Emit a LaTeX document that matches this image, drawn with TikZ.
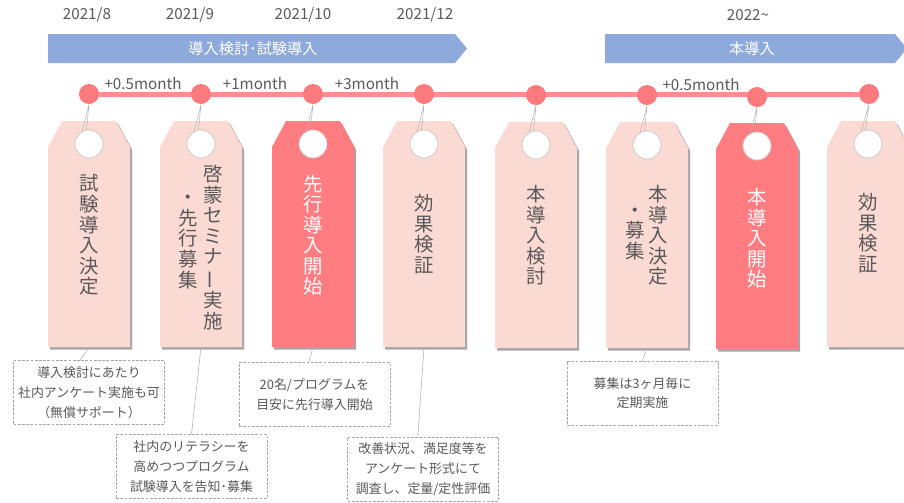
\documentclass[tikz,border=0pt]{standalone}
\usepackage{fontspec}
\setmainfont{Noto Sans CJK JP}
\usepackage{tikz}
\usetikzlibrary{backgrounds}

\definecolor{bandblue}{HTML}{8EA9DB}
\definecolor{tagpink}{HTML}{FCDAD4}
\definecolor{tagred}{HTML}{FF7C80}
\definecolor{dotred}{HTML}{FB7A7E}
\definecolor{linered}{HTML}{FF8C8F}
\definecolor{txtgray}{HTML}{595959}

\begin{document}
\begin{tikzpicture}[x=0.025cm,y=-0.025cm,font=\fontsize{10.8}{13}\selectfont,
    date/.style={text=txtgray},
    band/.style={fill=bandblue},
    dot/.style={circle,fill=dotred,minimum size=0.5cm,inner sep=0pt},
    hole/.style={circle,fill=white,draw=black!20,line width=0.6pt,minimum size=0.7cm,inner sep=0pt},
    vcol/.style={align=center,inner sep=0pt,text=#1,font=\fontsize{13.8}{14.6}\selectfont},
    vcol/.default=txtgray,
    note/.style={draw=black!35,dash pattern=on 2pt off 1pt,fill=white,align=center,text=txtgray,
      font=\fontsize{9.2}{14}\selectfont,minimum width=3.77cm,minimum height=1.6cm,inner sep=0pt},
    link/.style={black!30,line width=0.4pt},
    string/.style={black!30,line width=0.35pt},
    pics/tag/.style={code={
      \fill[black!35,shift={(2,2.5)}] (-27,0) -- (27,0) -- (41,26) -- (41,226) -- (-41,226) -- (-41,26) -- cycle;
      \fill[#1] (-27,0) -- (27,0) -- (41,26) -- (41,226) -- (-41,226) -- (-41,26) -- cycle;
      \node[hole] (-h) at (0,23) {};
      \coordinate (-b) at (0,226);
    }}]
  \useasboundingbox (0,0) rectangle (904,502);

  % months
  \node[date] (m1) at (87,15) {2021/8};
  \node[date] (m2) at (190,15) {2021/9};
  \node[date] (m3) at (303,15) {2021/10};
  \node[date] (m4) at (425,15) {2021/12};
  \node[date] (m5) at (748,15) {2022\textasciitilde};

  % phases
  \fill[band] (48,34) -- (455,34) -- (467,48.5) -- (455,63) -- (48,63) -- cycle;
  \node[text=white] (p1) at (253,49) {導入検討･試験導入};
  \fill[band] (605,34) -- (895,34) -- (907,48.5) -- (895,63) -- (605,63) -- cycle;
  \node[text=white] (p2) at (752,49) {本導入};

  % tags
  \pic (t1) at (89,121) {tag=tagpink};
  \pic (t2) at (201,121) {tag=tagpink};
  \pic (t3) at (313,121) {tag=tagred};
  \pic (t4) at (424,121) {tag=tagpink};
  \pic (t5) at (536,122) {tag=tagpink};
  \pic (t6) at (647,122) {tag=tagpink};
  \pic (t7) at (757,123) {tag=tagred};
  \pic (t8) at (868,121) {tag=tagpink};

  % timeline
  \node[dot] (d1) at (89,94) {};
  \node[dot] (d2) at (201,94) {};
  \node[dot] (d3) at (313,94) {};
  \node[dot] (d4) at (424,94) {};
  \node[dot] (d5) at (536,95) {};
  \node[dot] (d6) at (647,95) {};
  \node[dot] (d7) at (757,97) {};
  \node[dot] (d8) at (869,94) {};
  \begin{scope}[on background layer]
    \fill[white] (0,0) rectangle (904,502);
    \draw[linered,line width=0.125cm] (d1) -- (d8);
  \end{scope}
  \node[date] (g1) at (143,84) {+0.5month};
  \node[date] (g2) at (255,84) {+1month};
  \node[date] (g3) at (367,84) {+3month};
  \node[date] (g4) at (701,85) {+0.5month};

  % strings
  \draw[string] (d1.south) -- (t1-h.100) (d1.south) -- (t1-h.118);
  \draw[string] (d2.south) -- (t2-h.100) (d2.south) -- (t2-h.118);
  \draw[string] (d3.south) -- (t3-h.100) (d3.south) -- (t3-h.118);
  \draw[string] (d4.south) -- (t4-h.100) (d4.south) -- (t4-h.118);
  \draw[string] (d5.south) -- (t5-h.100) (d5.south) -- (t5-h.118);
  \draw[string] (d6.south) -- (t6-h.100) (d6.south) -- (t6-h.118);
  \draw[string] (d7.south) -- (t7-h.100) (d7.south) -- (t7-h.118);
  \draw[string] (d8.south) -- (t8-h.100) (d8.south) -- (t8-h.118);

  % tag texts
  \node[vcol] (v1) at (89,235) {試\\験\\導\\入\\決\\定};
  \node[vcol] (v2a) at (213,247.5) {啓\\蒙\\セ\\ミ\\ナ\\\rotatebox[origin=c]{90}{ー}\\実\\施};
  \node[vcol] (v2b) at (188,242) {・\\先\\行\\募\\集};
  \node[vcol=white] (v3) at (313,235) {先\\行\\導\\入\\開\\始};
  \node[vcol] (v4) at (424,234) {効\\果\\検\\証};
  \node[vcol] (v5) at (536,235.5) {本\\導\\入\\検\\討};
  \node[vcol] (v6a) at (658,235.5) {本\\導\\入\\決\\定};
  \node[vcol] (v6b) at (635,234) {・\\募\\集};
  \node[vcol=white] (v7) at (757,238.5) {本\\導\\入\\開\\始};
  \node[vcol] (v8) at (868,233) {効\\果\\検\\証};

  % notes
  \node[note] (n1) at (89,392.5) {導入検討にあたり\\社内アンケート実施も可\\（無償サポート）};
  \node[note] (n2) at (191.5,466.5) {社内のリテラシーを\\高めつつプログラム\\試験導入を告知･募集};
  \node[note] (n3) at (314.5,394.5) {20名/プログラムを\\目安に先行導入開始};
  \node[note] (n4) at (423,469) {改善状況、満足度等を\\アンケート形式にて\\調査し、定量/定性評価};
  \node[note] (n5) at (642.5,393) {募集は3ヶ月毎に\\定期実施};
  \draw[link] (t1-b) -- (n1.105);
  \draw[link] (t2-b) -- (n2.north);
  \draw[link] (t3-b) -- (n3.100);
  \draw[link] (t4-b) -- (n4.99);
  \draw[link] (t6-b) -- (n5.north);
\end{tikzpicture}
\end{document}
